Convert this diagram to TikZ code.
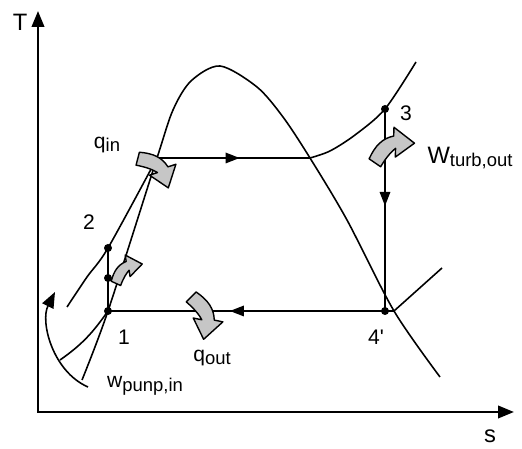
\documentclass[tikz,border=0pt]{standalone}
\usepackage{fontspec}
\setmainfont{Liberation Sans}
\usetikzlibrary{arrows.meta, decorations.markings}

\newcommand{\lowtxt}[1]{\raisebox{-2pt}{\fontsize{10.5}{12}\selectfont #1}}

\begin{document}
\begin{tikzpicture}[
    line/.style={line width=0.9pt},
    axis/.style={line width=1.4pt, line cap=rect, -{Triangle[width=7pt, length=9pt]}},
    flow/.style={line width=0.9pt, postaction={decorate},
                 decoration={markings, mark=at position #1 with {\arrow{Triangle[width=6pt, length=8pt]}}}},
    lbl/.style={font=\fontsize{12}{14}\selectfont, inner sep=0pt},
    big/.style={font=\fontsize{13.5}{15}\selectfont, inner sep=0pt},
    heat/.pic={
        \filldraw[fill=gray!45, draw=black, line width=0.8pt, line join=round]
            (-0.30,0.28) -- (-0.34,0.04) .. controls (-0.14,0.02) and (-0.02,-0.02) .. (0.06,-0.06)
            -- (-0.08,-0.12) -- (0.28,-0.32) -- (0.38,0.12) -- (0.24,0.06)
            .. controls (0.12,0.22) and (-0.04,0.28) .. (-0.30,0.28) -- cycle;
    }
]
\useasboundingbox (0,0) rectangle (10.44,8.98);

% Axes
\coordinate (O) at (0.76,0.74);
\coordinate (Ttop) at (0.76,8.76);
\coordinate (send) at (10.28,0.74);
\draw[axis] (O) -- (Ttop);
\draw[axis] (O) -- (send);
\node[big] (Tlab) at (0.40,8.54) {T};
\node[big] (slab) at (9.80,0.26) {s};

% State points
\coordinate (p1) at (2.16,2.76);
\coordinate (pm) at (2.16,3.42);
\coordinate (p2) at (2.16,4.02);
\coordinate (p3) at (7.70,6.80);
\coordinate (p4) at (7.70,2.76);
\coordinate (satL) at (3.14,5.82);
\coordinate (satV) at (6.20,5.82);
\coordinate (lowV) at (7.88,2.76);
\coordinate (crit) at (4.40,7.66);
\coordinate (hiStart) at (1.34,2.84);
\coordinate (hiEnd) at (8.32,7.74);
\coordinate (loStart) at (1.20,1.78);
\coordinate (loEnd) at (8.84,3.62);
\coordinate (wA) at (1.76,1.24);
\coordinate (wB) at (1.10,3.14);

% Saturation dome
\draw[line] plot[smooth, tension=0.5] coordinates {(1.64,1.38) (p1) (satL) (3.46,6.78) (3.82,7.36)
    (crit) (5.14,7.24) (5.66,6.64) (satV) (6.94,4.58) (lowV) (8.80,1.44)};

% Pressure lines
\draw[line] plot[smooth, tension=0.5] coordinates {(hiStart) (1.74,3.44) (p2) (satL)};
\draw[line] plot[smooth, tension=0.5] coordinates {(satV) (6.60,5.96) (7.10,6.28) (p3) (hiEnd)};
\draw[line] (loStart) to[out=35, in=235] (p1);
\draw[line] (lowV) -- (loEnd);

% Cycle
\draw[line] (p1) -- (p2);
\draw[flow=0.54] (satL) -- (satV);
\draw[flow=0.48] (p3) -- (p4);
\draw[flow=0.56] (p4) -- (p1);
\draw[line] (p4) -- (lowV);

% Pump work arrow
\draw[line, -{Triangle[width=7pt, length=9pt]}] (wA) .. controls (1.05,1.55) and (0.80,2.55) .. (wB);

% Dots
\foreach \p in {p1, pm, p2, p3, p4}
    \fill (\p) circle (0.08);

% Heat and work arrows
\pic[rotate=-5, scale=1.1] (hin) at (3.09,5.60) {heat};
\pic[rotate=-35, scale=1.15] (hout) at (4.02,2.68) {heat};
\pic[rotate=65, scale=1.15] (wout) at (7.82,5.98) {heat};
\pic[rotate=75, scale=0.85] (win) at (2.52,3.54) {heat};

% Labels
\node[lbl] (l1) at (2.48,2.24) {1};
\node[lbl] (l2) at (1.78,4.54) {2};
\node[lbl] (l3) at (8.12,6.72) {3};
\node[lbl] (l4) at (7.52,2.24) {4\textquotesingle};
\node[lbl] (qin) at (2.14,6.08) {q\lowtxt{in}};
\node[lbl] (qout) at (4.24,1.82) {q\lowtxt{out}};
\node[big] (wturb) at (9.40,5.82) {W\lowtxt{turb,out}};
\node[lbl] (wpump) at (2.90,1.26) {w\lowtxt{punp,in}};
\end{tikzpicture}
\end{document}
